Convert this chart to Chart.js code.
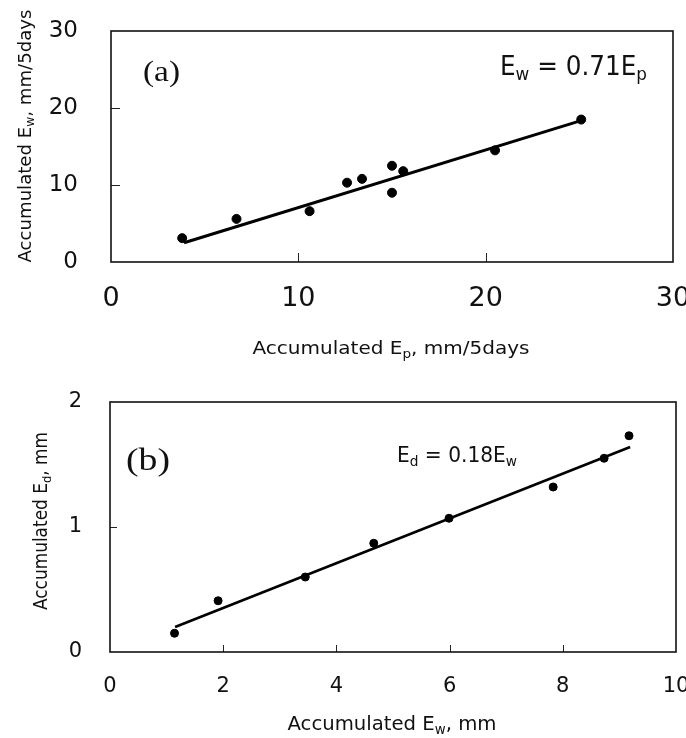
<!DOCTYPE html>
<html>
<head>
<meta charset="utf-8">
<script src="https://cdn.jsdelivr.net/npm/chart.js@4.4.1/dist/chart.umd.min.js"></script>
<style>
  html, body { margin: 0; padding: 0; background: #fff; }
  #wrap { position: relative; width: 686px; height: 738px; }
  #wrap div { position: absolute; left: 0; width: 686px; }
</style>
</head>
<body>
<div id="wrap">
  <div style="top:0;height:365px"><canvas id="chartA"></canvas></div>
  <div style="top:365px;height:373px"><canvas id="chartB"></canvas></div>
</div>
<script>
// ---------- data (a) ----------
const epA = [3.8, 6.7, 10.6, 12.6, 13.4, 15.0, 15.0, 15.6, 20.5, 25.1];
const ewA = [3.1, 5.6, 6.6, 10.3, 10.8, 12.5, 9.0, 11.8, 14.5, 18.5];
const fitXA = [3.9, 25.0];
const fitYA = [2.5, 18.3];
const ticksXA = [0, 10, 20, 30];
const ticksYA = [0, 10, 20, 30];

// ---------- data (b) ----------
const ewB = [1.14, 1.91, 3.45, 4.66, 5.99, 7.83, 8.73, 9.17];
const edB = [0.15, 0.41, 0.60, 0.87, 1.07, 1.32, 1.55, 1.73];
const fitXB = [1.15, 9.19];
const fitYB = [0.20, 1.64];
const ticksXB = [0, 2, 4, 6, 8, 10];
const ticksYB = [0, 1, 2];

const pts = (xs, ys) => xs.map((v, i) => ({ x: v, y: ys[i] }));

// text with subscripts, squeezed to a target width
function drawRich(ctx, t) {
  const subSize = t.size * 0.68;
  ctx.save();
  let w = 0;
  const widths = t.parts.map(p => {
    ctx.font = (p[1] ? subSize : t.size) + 'px ' + t.family;
    const m = ctx.measureText(p[0]).width;
    w += m;
    return m;
  });
  const sx = t.width ? t.width / w : 1;
  ctx.translate(t.x, t.y);
  if (t.rotate) ctx.rotate(-Math.PI / 2);
  ctx.scale(sx, 1);
  let cx = t.align === 'center' ? -w / 2 : 0;
  ctx.fillStyle = '#111';
  ctx.textBaseline = 'alphabetic';
  ctx.textAlign = 'left';
  t.parts.forEach((p, i) => {
    ctx.font = (p[1] ? subSize : t.size) + 'px ' + t.family;
    ctx.fillText(p[0], cx, p[1] ? t.size * 0.2 : 0);
    cx += widths[i];
  });
  ctx.restore();
}

const frame = {
  id: 'frame',
  afterDraw(chart, args, opts) {
    const { ctx, chartArea: a, scales: { x, y } } = chart;
    ctx.save();
    ctx.strokeStyle = '#222';
    ctx.lineWidth = 1;
    x.ticks.forEach(t => {
      if (t.value <= x.min || t.value >= x.max) return;
      const px = Math.round(x.getPixelForValue(t.value)) + 0.5;
      ctx.beginPath(); ctx.moveTo(px, a.bottom); ctx.lineTo(px, a.bottom - opts.tick); ctx.stroke();
    });
    y.ticks.forEach(t => {
      if (t.value <= y.min || t.value >= y.max) return;
      const py = Math.round(y.getPixelForValue(t.value)) + 0.5;
      ctx.beginPath(); ctx.moveTo(a.left, py); ctx.lineTo(a.left + opts.tick, py); ctx.stroke();
    });
    ctx.lineWidth = 1.6;
    ctx.strokeStyle = '#111';
    ctx.strokeRect(a.left, a.top, a.right - a.left, a.bottom - a.top);
    ctx.restore();
    opts.texts.forEach(t => drawRich(ctx, t));
  }
};

function scaleOpts(min, max, list, size, pad, fitSize, isX) {
  return {
    type: 'linear', min: min, max: max,
    afterBuildTicks: s => { s.ticks = list.map(v => ({ value: v })); },
    afterFit: s => {
      if (isX) s.height = fitSize; else s.width = fitSize;
      s.paddingLeft = 0; s.paddingRight = 0; s.paddingTop = 0; s.paddingBottom = 0;
    },
    grid: { display: false, drawTicks: false },
    border: { display: false },
    ticks: { color: '#111', padding: pad, maxRotation: 0, font: { family: 'DejaVu Sans', size: size } }
  };
}

const sans = '"DejaVu Sans", "Liberation Sans", sans-serif';
const serif = '"Liberation Serif", "DejaVu Serif", serif';

new Chart(document.getElementById('chartA'), {
  type: 'scatter',
  data: {
    datasets: [
      { data: pts(epA, ewA), backgroundColor: '#000', borderColor: '#000', pointRadius: 4.5, pointHoverRadius: 4.5 },
      { data: pts(fitXA, fitYA), showLine: true, borderColor: '#000', borderWidth: 3, pointRadius: 0 }
    ]
  },
  options: {
    responsive: true, maintainAspectRatio: false, animation: false,
    layout: { padding: { top: 31, right: 13, left: 0, bottom: 0 } },
    plugins: {
      legend: { display: false }, tooltip: { enabled: false },
      frame: {
        tick: 9,
        texts: [
          { parts: [['Accumulated E', 0], ['p', 1], [', mm/5days', 0]], x: 391, y: 354, size: 18, family: sans, width: 277, align: 'center' },
          { parts: [['Accumulated E', 0], ['w', 1], [', mm/5days', 0]], x: 31, y: 136, size: 17, family: sans, width: 253, align: 'center', rotate: true },
          { parts: [['(a)', 0]], x: 143, y: 81, size: 30, family: serif, width: 37 },
          { parts: [['E', 0], ['w', 1], [' = 0.71E', 0], ['p', 1]], x: 500, y: 75, size: 27, family: sans, width: 147 }
        ]
      }
    },
    scales: {
      x: scaleOpts(0, 30, ticksXA, 27, 21, 103, true),
      y: scaleOpts(0, 30, ticksYA, 23, 33, 111, false)
    }
  },
  plugins: [frame]
});

new Chart(document.getElementById('chartB'), {
  type: 'scatter',
  data: {
    datasets: [
      { data: pts(ewB, edB), backgroundColor: '#000', borderColor: '#000', pointRadius: 4, pointHoverRadius: 4 },
      { data: pts(fitXB, fitYB), showLine: true, borderColor: '#000', borderWidth: 2.6, pointRadius: 0 }
    ]
  },
  options: {
    responsive: true, maintainAspectRatio: false, animation: false,
    layout: { padding: { top: 37, right: 10, left: 0, bottom: 0 } },
    plugins: {
      legend: { display: false }, tooltip: { enabled: false },
      frame: {
        tick: 7,
        texts: [
          { parts: [['Accumulated E', 0], ['w', 1], [', mm', 0]], x: 392, y: 365, size: 20, family: sans, width: 209, align: 'center' },
          { parts: [['Accumulated E', 0], ['d', 1], [', mm', 0]], x: 47, y: 156, size: 19, family: sans, width: 178, align: 'center', rotate: true },
          { parts: [['(b)', 0]], x: 126, y: 105, size: 32, family: serif, width: 44 },
          { parts: [['E', 0], ['d', 1], [' = 0.18E', 0], ['w', 1]], x: 397, y: 97, size: 21, family: sans, width: 120 }
        ]
      }
    },
    scales: {
      x: scaleOpts(0, 10, ticksXB, 21, 22, 86, true),
      y: scaleOpts(0, 2, ticksYB, 21, 28, 110, false)
    }
  },
  plugins: [frame]
});
</script>
</body>
</html>
